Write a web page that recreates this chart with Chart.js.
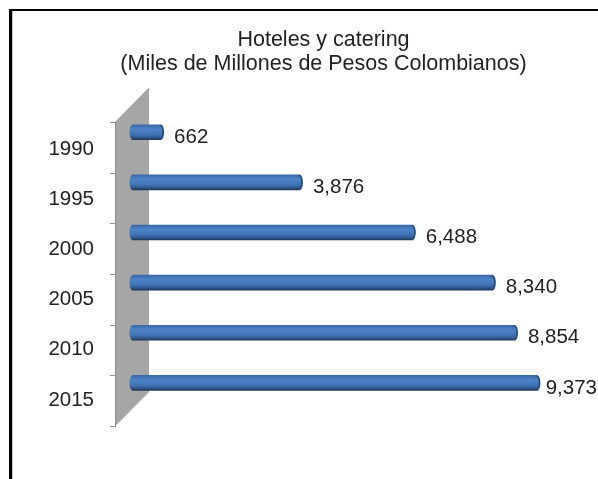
<!DOCTYPE html>
<html><head><meta charset="utf-8">
<style>html,body{margin:0;padding:0;background:#fff;overflow:hidden}#w{width:598px;height:479px;position:relative}canvas{display:block}</style>
<script src="https://cdn.jsdelivr.net/npm/chart.js@4"></script></head>
<body><div id="w"><canvas id="c" width="598" height="479"></canvas></div>
<script>
const categories = ["1990","1995","2000","2005","2010","2015"];
const values = [662,3876,6488,8340,8854,9373];
const titleLines = ["Hoteles y catering","(Miles de Millones de Pesos Colombianos)"];

const FONT = '"Liberation Sans", Arial, sans-serif';
const TEXT = '#222222';
function barGradient(c,cy,h){
  const g=c.createLinearGradient(0,cy-h/2,0,cy+h/2);
  g.addColorStop(0,'#3a6aa6'); g.addColorStop(.3,'#4c84ca'); g.addColorStop(.68,'#3f72b2'); g.addColorStop(.88,'#2c5286'); g.addColorStop(1,'#1e3658');
  return g;
}
const deco = {
  id:'deco',
  beforeDraw(chart){
    const {ctx} = chart;
    ctx.save();
    ctx.fillStyle='#fff'; ctx.fillRect(0,0,598,479);
    ctx.fillStyle='#000';
    ctx.fillRect(9,9,589,2);
    ctx.fillRect(9,9,3,470);
    ctx.fillStyle='#c0c0c0';
    ctx.fillRect(12,11,1,468);
    ctx.restore();
  },
  beforeDatasetsDraw(chart){
    const {ctx,chartArea:a,scales:{y}} = chart;
    const step = y.getPixelForValue(1)-y.getPixelForValue(0);
    const t0 = y.getPixelForValue(0)-step/2+15;
    const n = categories.length;
    const wallStep = step+0.5, depth=34;
    ctx.save();
    ctx.fillStyle='#a6a6a6'; ctx.strokeStyle='#8c8c8c'; ctx.lineWidth=1;
    ctx.beginPath();
    ctx.moveTo(a.left+0.5,t0);
    ctx.lineTo(a.left+depth,t0-depth);
    ctx.lineTo(a.left+depth,t0+n*wallStep-depth);
    ctx.lineTo(a.left+0.5,t0+n*wallStep);
    ctx.closePath(); ctx.fill();
    ctx.beginPath();
    ctx.moveTo(a.left+depth,t0-depth);
    ctx.lineTo(a.left+0.5,t0);
    ctx.lineTo(a.left+0.5,t0+n*wallStep);
    ctx.stroke();
    ctx.beginPath();
    for(let i=0;i<=n;i++){
      const py=Math.round(t0+i*wallStep)+0.5;
      ctx.moveTo(a.left-5,py); ctx.lineTo(a.left+1,py);
    }
    ctx.stroke();
    chart.getDatasetMeta(0).data.forEach(el=>{
      ctx.fillStyle=barGradient(ctx,el.y,el.height);
      ctx.beginPath();
      ctx.ellipse(el.base,el.y,3,el.height/2,0,0,Math.PI*2);
      ctx.fill();
    });
    ctx.restore();
  },
  afterDatasetsDraw(chart){
    const {ctx} = chart;
    const meta = chart.getDatasetMeta(0);
    ctx.save();
    meta.data.forEach((el,i)=>{
      const h = el.height;
      ctx.fillStyle='#254a7c';
      ctx.beginPath();
      ctx.ellipse(el.x,el.y,3,h/2,0,0,Math.PI*2);
      ctx.fill();
      ctx.fillStyle=barGradient(ctx,el.y,h);
      ctx.beginPath();
      ctx.ellipse(el.x-1,el.y,2.2,h/2-1,0,0,Math.PI*2);
      ctx.fill();
      ctx.fillStyle=TEXT;
      ctx.font='20.5px '+FONT;
      ctx.textAlign='left'; ctx.textBaseline='middle';
      const s=values[i].toLocaleString('en-US');
      ctx.fillText(s,Math.min(el.x+13,597-ctx.measureText(s).width),el.y+5);
    });
    ctx.restore();
  }
};
new Chart(document.getElementById('c'),{
  type:'bar',
  plugins:[deco],
  data:{labels:categories,datasets:[{
    data:values,
    borderWidth:0,
    barThickness:15,
    backgroundColor(ctx){
      const s=ctx.chart.scales.y;
      const cy=(s&&ctx.dataIndex!==undefined)?s.getPixelForValue(ctx.dataIndex):NaN;
      if(!Number.isFinite(cy)) return '#4c84ca';
      return barGradient(ctx.chart.ctx,cy,15);
    }
  }]},
  options:{
    indexAxis:'y',
    responsive:false,
    animation:false,
    layout:{padding:{left:49,right:0,top:0,bottom:71}},
    plugins:{legend:{display:false},tooltip:{enabled:false},
      title:{display:true,text:titleLines,color:TEXT,font:{family:FONT,size:21.5,weight:'normal',lineHeight:1.12},padding:{top:28,bottom:31}}},
    scales:{
      x:{display:false,min:-405,max:10776},
      y:{afterFit(s){s.width=66;},
        grid:{display:false},border:{display:false},
        ticks:{color:TEXT,font:{family:FONT,size:20.5},padding:13,labelOffset:17,autoSkip:false}}
    }
  }
});
</script></body></html>
